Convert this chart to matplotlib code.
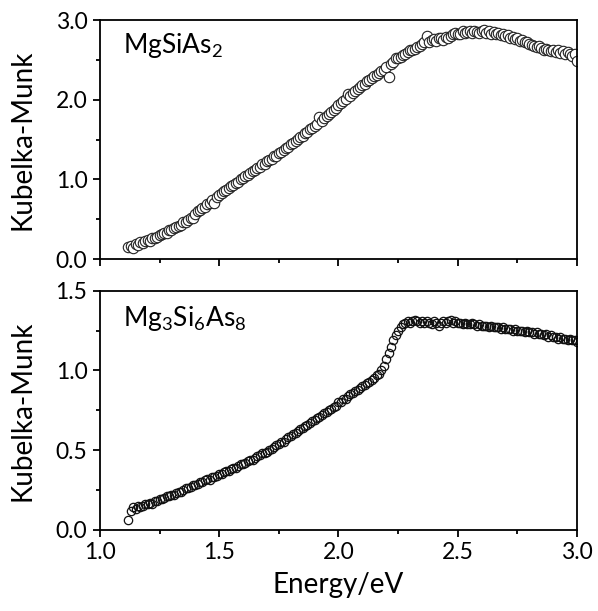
import matplotlib
matplotlib.use('Agg')
import matplotlib.pyplot as plt
from matplotlib.ticker import MultipleLocator
import numpy as np

plt.rcParams['font.family'] = ['Lato', 'DejaVu Sans']
plt.rcParams['mathtext.fontset'] = 'custom'
plt.rcParams['mathtext.rm'] = 'Lato'

# Kubelka-Munk spectra, energy step 0.01 eV starting at 1.12 eV
km_mgsias2 = [
    0.15, 0.17, 0.14, 0.19, 0.18, 0.21, 0.20, 0.23, 0.24, 0.23,
    0.26, 0.27, 0.28, 0.30, 0.31, 0.33, 0.33, 0.36, 0.37, 0.39,
    0.40, 0.42, 0.43, 0.46, 0.47, 0.49, 0.51, 0.52, 0.57, 0.60,
    0.61, 0.64, 0.66, 0.69, 0.70, 0.74, 0.71, 0.78, 0.81, 0.83,
    0.86, 0.87, 0.89, 0.92, 0.93, 0.96, 0.97, 1.00, 1.02, 1.04,
    1.05, 1.08, 1.10, 1.12, 1.14, 1.15, 1.19, 1.20, 1.23, 1.25,
    1.26, 1.29, 1.30, 1.33, 1.35, 1.37, 1.40, 1.41, 1.44, 1.46,
    1.48, 1.51, 1.53, 1.55, 1.58, 1.59, 1.63, 1.64, 1.67, 1.69,
    1.78, 1.74, 1.77, 1.80, 1.82, 1.85, 1.87, 1.90, 1.93, 1.96,
    1.99, 2.01, 2.07, 2.05, 2.08, 2.11, 2.14, 2.16, 2.19, 2.20,
    2.23, 2.25, 2.27, 2.30, 2.31, 2.34, 2.36, 2.38, 2.41, 2.28,
    2.45, 2.47, 2.52, 2.52, 2.54, 2.56, 2.58, 2.60, 2.62, 2.63,
    2.64, 2.66, 2.67, 2.70, 2.72, 2.80, 2.73, 2.75, 2.76, 2.74,
    2.77, 2.78, 2.75, 2.79, 2.77, 2.80, 2.82, 2.84, 2.82, 2.83,
    2.86, 2.84, 2.85, 2.87, 2.84, 2.86, 2.85, 2.84, 2.86, 2.88,
    2.84, 2.86, 2.83, 2.85, 2.82, 2.84, 2.81, 2.82, 2.80, 2.81,
    2.78, 2.79, 2.76, 2.77, 2.74, 2.75, 2.72, 2.73, 2.70, 2.69,
    2.68, 2.66, 2.67, 2.65, 2.63, 2.64, 2.62, 2.61, 2.63, 2.60,
    2.62, 2.59, 2.61, 2.58, 2.60, 2.57, 2.55, 2.58, 2.49,
]

km_mg3si6as8 = [
    0.06, 0.12, 0.14, 0.13, 0.15, 0.14, 0.15, 0.16, 0.16, 0.17,
    0.16, 0.18, 0.18, 0.19, 0.19, 0.20, 0.21, 0.21, 0.22, 0.22,
    0.23, 0.24, 0.24, 0.25, 0.26, 0.26, 0.27, 0.28, 0.28, 0.29,
    0.30, 0.30, 0.31, 0.32, 0.31, 0.33, 0.33, 0.34, 0.35, 0.35,
    0.36, 0.37, 0.37, 0.38, 0.39, 0.39, 0.40, 0.41, 0.41, 0.42,
    0.43, 0.44, 0.44, 0.45, 0.46, 0.47, 0.48, 0.48, 0.49, 0.50,
    0.51, 0.52, 0.53, 0.54, 0.55, 0.55, 0.57, 0.58, 0.59, 0.60,
    0.61, 0.62, 0.63, 0.64, 0.65, 0.66, 0.67, 0.68, 0.69, 0.70,
    0.71, 0.72, 0.73, 0.74, 0.75, 0.76, 0.77, 0.78, 0.80, 0.80,
    0.82, 0.82, 0.84, 0.85, 0.86, 0.87, 0.88, 0.89, 0.90, 0.91,
    0.92, 0.93, 0.94, 0.95, 0.97, 0.98, 1.00, 1.03, 1.07, 1.11,
    1.15, 1.19, 1.22, 1.25, 1.27, 1.29, 1.30, 1.31, 1.30, 1.31,
    1.32, 1.31, 1.30, 1.31, 1.30, 1.31, 1.30, 1.29, 1.31, 1.30,
    1.28, 1.30, 1.31, 1.30, 1.31, 1.32, 1.30, 1.31, 1.30, 1.30,
    1.29, 1.30, 1.29, 1.29, 1.30, 1.29, 1.28, 1.29, 1.28, 1.28,
    1.28, 1.27, 1.28, 1.27, 1.27, 1.27, 1.26, 1.27, 1.26, 1.26,
    1.26, 1.25, 1.26, 1.25, 1.25, 1.25, 1.24, 1.25, 1.24, 1.24,
    1.23, 1.24, 1.23, 1.23, 1.22, 1.23, 1.21, 1.22, 1.21, 1.21,
    1.20, 1.21, 1.20, 1.20, 1.19, 1.20, 1.19, 1.19, 1.18,
]

e_top = 1.12 + 0.01 * np.arange(len(km_mgsias2))
e_bot = 1.12 + 0.01 * np.arange(len(km_mg3si6as8))

fig = plt.figure(figsize=(5.98, 6.11), dpi=100)
ax1 = fig.add_axes([0.167, 0.576, 0.798, 0.391])
ax2 = fig.add_axes([0.167, 0.133, 0.798, 0.391])

ax1.plot(e_top, km_mgsias2, 'o', mfc='white', mec='#222222', mew=0.8, ms=7.5)
ax2.plot(e_bot, km_mg3si6as8, 'o', mfc='none', mec='#111111', mew=0.9, ms=6)

for ax in (ax1, ax2):
    ax.set_xlim(1.0, 3.0)
    ax.xaxis.set_major_locator(MultipleLocator(0.5))
    ax.xaxis.set_minor_locator(MultipleLocator(0.25))
    ax.tick_params(which='both', direction='out', top=False, right=False,
                   labelsize=16.5, width=1.3, pad=4)
    ax.tick_params(which='major', length=5)
    ax.tick_params(which='minor', length=3)
    for s in ax.spines.values():
        s.set_linewidth(1.3)
    ax.set_ylabel('Kubelka-Munk', fontsize=20)
    ax.yaxis.set_label_coords(-0.135, 0.5)

ax1.set_ylim(0, 3.0)
ax1.yaxis.set_major_locator(MultipleLocator(1.0))
ax1.yaxis.set_minor_locator(MultipleLocator(0.5))
ax1.yaxis.set_major_formatter('{x:.1f}')
ax1.tick_params(axis='x', labelbottom=False)

ax2.set_ylim(0, 1.5)
ax2.yaxis.set_major_locator(MultipleLocator(0.5))
ax2.yaxis.set_minor_locator(MultipleLocator(0.25))
ax2.yaxis.set_major_formatter('{x:.1f}')
ax2.xaxis.set_major_formatter('{x:.1f}')
ax2.set_xlabel('Energy/eV', fontsize=20, labelpad=6)

ax1.text(0.048, 0.895, r'MgSiAs$_\mathregular{2}$', transform=ax1.transAxes,
         fontsize=19, va='center', ha='left')
ax2.text(0.048, 0.885, r'Mg$_\mathregular{3}$Si$_\mathregular{6}$As$_\mathregular{8}$',
         transform=ax2.transAxes, fontsize=19, va='center', ha='left')

fig.savefig('out.png', dpi=100)
